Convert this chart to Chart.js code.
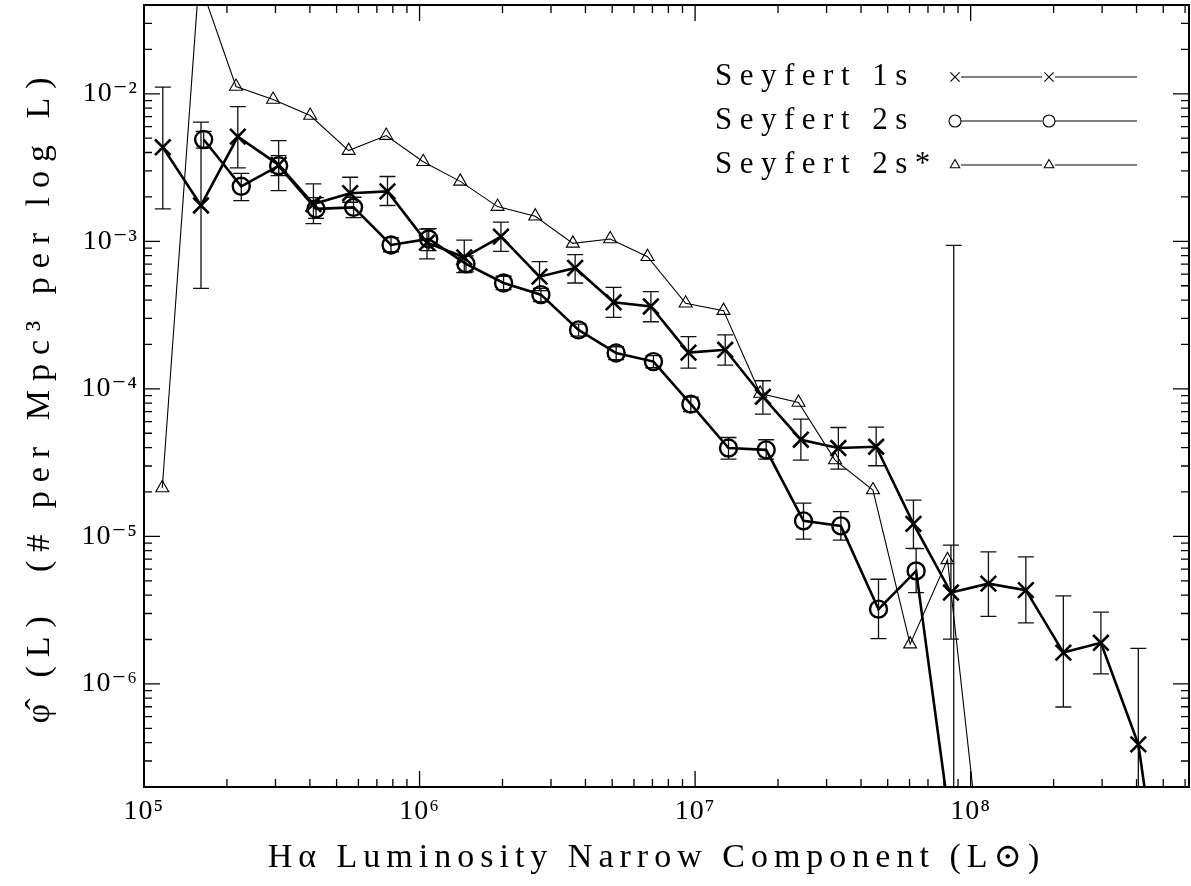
<!DOCTYPE html>
<html lang="en">
<head>
    <meta charset="UTF-8">
    <title>Seyfert H-alpha narrow component luminosity function</title>
    <!-- Chart.js CDN -->
    <script src="https://cdn.jsdelivr.net/npm/chart.js"></script>
    <style>
        html, body { margin: 0; padding: 0; background: #fff; }
        #wrap { width: 1191px; height: 886px; }
    </style>
</head>
<body>
<div id="wrap"><canvas id="lfChart"></canvas></div>

<script>
    // --- Data ---

    // Seyfert 1s (crosses, with error bars)
    const lumSy1 = [1.17e5, 1.61e5, 2.19e5, 3.08e5, 4.12e5, 5.60e5, 7.65e5, 1.064e6, 1.453e6, 1.974e6,
                    2.725e6, 3.67e6, 5.06e6, 6.91e6, 9.46e6, 1.286e7, 1.762e7, 2.42e7, 3.31e7, 4.54e7,
                    6.20e7, 8.48e7, 1.160e8, 1.586e8, 2.17e8, 2.97e8, 4.06e8, 5.55e8];
    const phiSy1 = [4.34e-3, 1.75e-3, 5.13e-3, 3.30e-3, 1.79e-3, 2.12e-3, 2.18e-3, 9.8e-4, 7.79e-4, 1.076e-3,
                    5.76e-4, 6.60e-4, 3.86e-4, 3.62e-4, 1.76e-4, 1.84e-4, 8.84e-5, 4.52e-5, 3.97e-5, 4.05e-5,
                    1.216e-5, 4.16e-6, 4.78e-6, 4.32e-6, 1.63e-6, 1.90e-6, 3.89e-7, 6.8e-9];
    const phiSy1Hi = [1.11e-2, 6.42e-3, 8.20e-3, 4.82e-3, 2.45e-3, 2.72e-3, 2.75e-3, 1.21e-3, 1.02e-3, 1.35e-3,
                      7.28e-4, 8.12e-4, 4.87e-4, 4.56e-4, 2.26e-4, 2.32e-4, 1.135e-4, 6.24e-5, 5.47e-5, 5.50e-5,
                      1.76e-5, 8.72e-6, 7.85e-6, 7.26e-6, 3.95e-6, 3.07e-6, 1.74e-6, null];
    const phiSy1Lo = [1.66e-3, 4.80e-4, 3.15e-3, 2.21e-3, 1.32e-3, 1.84e-3, 1.75e-3, 7.60e-4, 6.13e-4, 8.55e-4,
                      4.63e-4, 5.22e-4, 3.05e-4, 2.85e-4, 1.38e-4, 1.45e-4, 6.75e-5, 3.29e-5, 2.86e-5, 3.01e-5,
                      8.29e-6, 2.01e-6, 2.87e-6, 2.59e-6, 6.97e-7, 1.17e-6, 1e-8, null];

    // Seyfert 2s (open circles, with error bars)
    const lumSy2 = [1.646e5, 2.254e5, 3.08e5, 4.21e5, 5.76e5, 7.88e5, 1.080e6, 1.474e6, 2.018e6, 2.757e6,
                    3.776e6, 5.17e6, 7.06e6, 9.65e6, 1.322e7, 1.811e7, 2.474e7, 3.38e7, 4.63e7, 6.34e7, 8.68e7];
    const phiSy2 = [4.90e-3, 2.36e-3, 3.25e-3, 1.66e-3, 1.70e-3, 9.45e-4, 1.038e-3, 7.03e-4, 5.22e-4, 4.35e-4,
                    2.51e-4, 1.75e-4, 1.53e-4, 7.88e-5, 3.97e-5, 3.86e-5, 1.274e-5, 1.178e-5, 3.21e-6, 5.83e-6, 7.5e-8];
    const phiSy2Hi = [5.57e-3, 2.89e-3, 3.81e-3, 1.98e-3, 1.99e-3, 1.06e-3, 1.22e-3, 7.98e-4, 5.8e-4, 4.8e-4,
                      2.75e-4, 1.93e-4, 1.68e-4, 8.8e-5, 4.68e-5, 4.52e-5, 1.68e-5, 1.47e-5, 5.12e-6, 8.27e-6, 9.4e-4];
    const phiSy2Lo = [4.29e-3, 1.89e-3, 2.79e-3, 1.43e-3, 1.45e-3, 8.5e-4, 8.65e-4, 6.2e-4, 4.7e-4, 3.9e-4,
                      2.28e-4, 1.58e-4, 1.39e-4, 7.0e-5, 3.34e-5, 3.34e-5, 9.57e-6, 9.42e-6, 2.03e-6, 4.16e-6, 1e-9];

    // Seyfert 2s* (open triangles, thin line, no error bars)
    const lumSy2s = [1.165e5, 1.583e5, 2.157e5, 2.94e5, 4.01e5, 5.53e5, 7.57e5, 1.031e6, 1.405e6, 1.919e6,
                     2.63e6, 3.60e6, 4.92e6, 6.72e6, 9.24e6, 1.268e7, 1.723e7, 2.373e7, 3.22e7, 4.42e7,
                     6.03e7, 8.24e7, 1.125e8];
    const phiSy2s = [2.13e-5, 5.9e-2, 1.12e-2, 9.15e-3, 7.13e-3, 4.12e-3, 5.21e-3, 3.46e-3, 2.55e-3, 1.72e-3,
                     1.48e-3, 9.69e-4, 1.038e-3, 7.87e-4, 3.80e-4, 3.39e-4, 9.31e-5, 8.09e-5, 3.29e-5, 2.06e-5,
                     1.86e-6, 6.93e-6, 3.64e-8];

    // Axis ticks
    const xTickValues = [1e5, 1e6, 1e7, 1e8];
    const xTickLabels = ['10⁵', '10⁶', '10⁷', '10⁸'];
    const yTickValues = [1e-6, 1e-5, 1e-4, 1e-3, 1e-2];
    const yTickLabels = ['10⁻⁶', '10⁻⁵', '10⁻⁴', '10⁻³', '10⁻²'];

    const SERIF = '"Liberation Serif", "DejaVu Serif", serif';

    const toPoints = (xs, ys) => xs.map((x, i) => ({ x: x, y: ys[i] }));

    // --- Plugins ---

    // error bars, clipped to the plot box
    const errorBars = {
        id: 'errorBars',
        beforeDatasetsDraw(chart) {
            const { ctx, chartArea: a, scales: { y } } = chart;
            ctx.save();
            ctx.beginPath();
            ctx.rect(a.left, a.top, a.right - a.left, a.bottom - a.top);
            ctx.clip();
            ctx.strokeStyle = '#111';
            ctx.lineWidth = 1.3;
            chart.data.datasets.forEach((ds, i) => {
                if (!ds.errHi) return;
                chart.getDatasetMeta(i).data.forEach((pt, j) => {
                    const hi = ds.errHi[j], lo = ds.errLo[j];
                    if (hi == null || lo == null) return;
                    const yt = y.getPixelForValue(hi), yb = y.getPixelForValue(lo);
                    ctx.beginPath();
                    ctx.moveTo(pt.x, yt); ctx.lineTo(pt.x, yb);
                    ctx.moveTo(pt.x - 8, yt); ctx.lineTo(pt.x + 8, yt);
                    ctx.moveTo(pt.x - 8, yb); ctx.lineTo(pt.x + 8, yb);
                    ctx.stroke();
                });
            });
            ctx.restore();
        }
    };

    // box around the plot with inward ticks on all four sides
    const frameTicks = {
        id: 'frameTicks',
        afterDraw(chart) {
            const { ctx, chartArea: a, scales: { x, y } } = chart;
            ctx.save();
            ctx.strokeStyle = '#000';
            ctx.lineWidth = 2;
            ctx.strokeRect(a.left, a.top, a.right - a.left, a.bottom - a.top);
            ctx.lineWidth = 1.3;
            ctx.beginPath();
            for (let e = 4; e <= 9; e++) {
                for (let m = 1; m <= 9; m++) {
                    const v = m * Math.pow(10, e);
                    if (v <= x.min || v >= x.max) continue;
                    const px = x.getPixelForValue(v);
                    const len = m === 1 ? 16 : 8;
                    ctx.moveTo(px, a.bottom); ctx.lineTo(px, a.bottom - len);
                    ctx.moveTo(px, a.top); ctx.lineTo(px, a.top + len);
                }
            }
            for (let e = -8; e <= -1; e++) {
                for (let m = 1; m <= 9; m++) {
                    const v = m * Math.pow(10, e);
                    if (v <= y.min || v >= y.max) continue;
                    const py = y.getPixelForValue(v);
                    const len = m === 1 ? 16 : 8;
                    ctx.moveTo(a.left, py); ctx.lineTo(a.left + len, py);
                    ctx.moveTo(a.right, py); ctx.lineTo(a.right - len, py);
                }
            }
            ctx.stroke();
            ctx.restore();
        }
    };

    // legend in the upper right: label, then marker-line-marker-line
    const seyfertLegend = {
        id: 'seyfertLegend',
        afterDraw(chart) {
            const { ctx } = chart;
            const rowY = [77, 121, 165];
            const marks = [
                { pointStyle: 'crossRot', radius: 6.5, rotation: 0, borderWidth: 1.2 },
                { pointStyle: 'circle', radius: 6, rotation: 0, borderWidth: 1.2 },
                { pointStyle: 'triangle', radius: 5.5, rotation: 0, borderWidth: 1.2 }
            ];
            ctx.save();
            chart.data.datasets.forEach((ds, i) => {
                const yy = rowY[i];
                ctx.font = '31px ' + SERIF;
                ctx.letterSpacing = '7.5px';
                ctx.fillStyle = '#000';
                ctx.textAlign = 'left';
                ctx.textBaseline = 'middle';
                ctx.fillText(ds.label, 715, yy);
                ctx.letterSpacing = '0px';
                ctx.strokeStyle = '#000';
                ctx.lineWidth = 1.1;
                ctx.beginPath();
                ctx.moveTo(961, yy); ctx.lineTo(1042, yy);
                ctx.moveTo(1055, yy); ctx.lineTo(1137, yy);
                ctx.stroke();
                ctx.fillStyle = 'rgba(0,0,0,0)';
                Chart.helpers.drawPoint(ctx, marks[i], 955, yy);
                Chart.helpers.drawPoint(ctx, marks[i], 1049, yy);
            });
            ctx.restore();
        }
    };

    // wide letter spacing for the axis titles (plotting-package look)
    const titleSpacing = { x: '6px', y: '9px' };
    const titleShift = { x: -10, y: 0 };
    const spacedText = {
        id: 'spacedText',
        beforeDraw(chart) {
            Object.entries(chart.scales).forEach(([id, s]) => {
                if (s._spaced) return;
                s._spaced = true;
                const drawTitle = s.drawTitle, drawLabels = s.drawLabels;
                s.drawTitle = function () {
                    this.ctx.save();
                    this.ctx.letterSpacing = titleSpacing[id] || '0px';
                    this.ctx.translate(titleShift[id] || 0, 0);
                    drawTitle.apply(this, arguments);
                    this.ctx.restore();
                };
                s.drawLabels = function () {
                    this.ctx.save(); this.ctx.letterSpacing = '1px';
                    drawLabels.apply(this, arguments);
                    this.ctx.restore();
                };
            });
        }
    };

    // --- Chart ---
    const ctx = document.getElementById('lfChart').getContext('2d');
    const lfChart = new Chart(ctx, {
        type: 'line',
        data: {
            datasets: [
                {
                    label: 'Seyfert 1s',
                    data: toPoints(lumSy1, phiSy1),
                    errHi: phiSy1Hi, errLo: phiSy1Lo,
                    borderColor: '#000', borderWidth: 2.6, tension: 0, fill: false,
                    pointStyle: 'crossRot', pointRadius: 11, pointBorderWidth: 2.6,
                    pointBorderColor: '#000', pointBackgroundColor: 'rgba(0,0,0,0)'
                },
                {
                    label: 'Seyfert 2s',
                    data: toPoints(lumSy2, phiSy2),
                    errHi: phiSy2Hi, errLo: phiSy2Lo,
                    borderColor: '#000', borderWidth: 2.6, tension: 0, fill: false,
                    pointStyle: 'circle', pointRadius: 8.5, pointBorderWidth: 2.4,
                    pointBorderColor: '#000', pointBackgroundColor: 'rgba(0,0,0,0)'
                },
                {
                    label: 'Seyfert 2s*',
                    data: toPoints(lumSy2s, phiSy2s),
                    borderColor: '#000', borderWidth: 1.1, tension: 0, fill: false,
                    pointStyle: 'triangle', pointRadius: 7.5, pointBorderWidth: 1.1,
                    pointBorderColor: '#000', pointBackgroundColor: 'rgba(0,0,0,0)'
                }
            ]
        },
        options: {
            responsive: true,
            maintainAspectRatio: false,
            animation: false,
            layout: { autoPadding: false, padding: { top: 5, right: 2, left: 0, bottom: 0 } },
            plugins: {
                legend: { display: false },
                tooltip: { enabled: false }
            },
            scales: {
                x: {
                    type: 'logarithmic',
                    min: 1e5, max: 6.2e8, bounds: 'data',
                    grid: { display: false, drawTicks: false },
                    border: { display: false },
                    afterBuildTicks: s => { s.ticks = xTickValues.map(v => ({ value: v })); },
                    afterFit: s => { s.height = 99; s.paddingLeft = 0; s.paddingRight = 0; },
                    ticks: {
                        autoSkip: false, maxRotation: 0, padding: 8, color: '#000',
                        font: { family: SERIF, size: 28 },
                        callback: v => xTickLabels[xTickValues.indexOf(v)] ?? ''
                    },
                    title: {
                        display: true,
                        text: 'Hα Luminosity Narrow Component (L⊙)',
                        color: '#000',
                        font: { family: SERIF, size: 34 },
                        padding: { top: 0, bottom: 8 }
                    }
                },
                y: {
                    type: 'logarithmic',
                    min: 2e-7, max: 0.04, bounds: 'data',
                    grid: { display: false, drawTicks: false },
                    border: { display: false },
                    afterBuildTicks: s => { s.ticks = yTickValues.map(v => ({ value: v })); },
                    afterFit: s => { s.width = 144; s.paddingTop = 0; s.paddingBottom = 0; },
                    ticks: {
                        autoSkip: false, padding: 6, color: '#000',
                        font: { family: SERIF, size: 28 },
                        callback: v => yTickLabels[yTickValues.indexOf(v)] ?? ''
                    },
                    title: {
                        display: true,
                        text: 'φ̂ (L)  (# per Mpc³ per log L)',
                        color: '#000',
                        font: { family: SERIF, size: 34 },
                        padding: { top: 20, bottom: 0 }
                    }
                }
            }
        },
        plugins: [errorBars, frameTicks, seyfertLegend, spacedText]
    });
</script>
</body>
</html>
